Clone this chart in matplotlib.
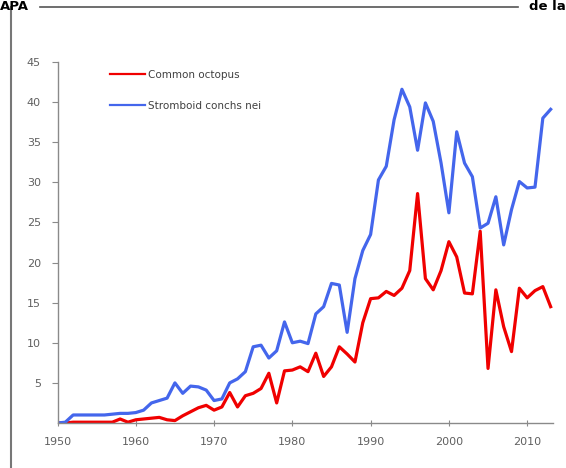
import matplotlib
matplotlib.use("Agg")
import matplotlib.pyplot as plt
from matplotlib.lines import Line2D

# years and catches
anos = list(range(1950, 2014))

octopus = [0, 0, 0.1, 0.1, 0.1, 0.1, 0.1, 0.1, 0.5, 0.1,
           0.4, 0.5, 0.6, 0.7, 0.4, 0.3, 0.9, 1.4, 1.9, 2.2,
           1.6, 2.0, 3.8, 2.0, 3.4, 3.7, 4.3, 6.2, 2.5, 6.5,
           6.6, 7.0, 6.4, 8.7, 5.8, 7.0, 9.5, 8.6, 7.6, 12.5,
           15.5, 15.6, 16.4, 15.9, 16.8, 19.0, 28.6, 18.0, 16.6, 19.0,
           22.6, 20.7, 16.2, 16.1, 23.9, 6.8, 16.6, 12.0, 8.9, 16.8,
           15.6, 16.5, 17.0, 14.5]

conchs = [0, 0.1, 1.0, 1.0, 1.0, 1.0, 1.0, 1.1, 1.2, 1.2,
          1.3, 1.6, 2.5, 2.8, 3.1, 5.0, 3.7, 4.6, 4.5, 4.1,
          2.8, 3.0, 5.0, 5.5, 6.4, 9.5, 9.7, 8.1, 9.0, 12.6,
          10.0, 10.2, 9.9, 13.6, 14.5, 17.4, 17.2, 11.3, 18.0, 21.5,
          23.5, 30.3, 32.0, 37.8, 41.6, 39.4, 34.0, 39.9, 37.6, 32.4,
          26.2, 36.3, 32.4, 30.7, 24.3, 24.9, 28.2, 22.2, 26.6, 30.1,
          29.3, 29.4, 38.0, 39.1]

series = ["Common octopus", "Stromboid conchs nei"]
cores = ["#F00000", "#4466EC"]

W, H = 566, 468
fig = plt.figure(figsize=(W / 100, H / 100), dpi=100)

# frame of the document page around the chart
fig.add_artist(Line2D([40 / W, 518 / W], [1 - 7 / H, 1 - 7 / H], color="#555555", lw=1.2))
fig.add_artist(Line2D([11 / W, 11 / W], [0, 1 - 7 / H], color="#777777", lw=1.5))
fig.text(0, 1 - 10 / H, "APA", fontsize=9.5, fontweight="bold", ha="left", va="baseline")
fig.text(1, 1 - 10 / H, "de la", fontsize=9.5, fontweight="bold", ha="right", va="baseline")

ax = fig.add_axes([57.5 / W, 1 - 423 / H, (553 - 57.5) / W, (423 - 62) / H])

ax.plot(anos, octopus, color=cores[0], lw=2.3, solid_joinstyle="round", label=series[0])
ax.plot(anos, conchs, color=cores[1], lw=2.3, solid_joinstyle="round", label=series[1])

ax.set_xlim(1950, 2013.3)
ax.set_ylim(0, 45)
ax.set_xticks(range(1950, 2011, 10))
ax.set_yticks(range(5, 46, 5))

for s in ["top", "right"]:
    ax.spines[s].set_visible(False)
for s in ["left", "bottom"]:
    ax.spines[s].set_color("#8a8a8a")
    ax.spines[s].set_linewidth(1.0)

ax.tick_params(axis="y", direction="out", length=4, width=0.8, color="#8a8a8a",
               labelsize=8, labelcolor="#606060", pad=8)
ax.tick_params(axis="x", direction="inout", length=4, width=0.8, color="#8a8a8a",
               labelsize=8, labelcolor="#606060", pad=8)

leg = ax.legend(loc="upper left", bbox_to_anchor=(110 / W, 1 - 70 / H),
                bbox_transform=fig.transFigure, frameon=False, fontsize=7.5,
                handlelength=3.4, handletextpad=0.2, labelspacing=2.0,
                borderpad=0, borderaxespad=0)
for t in leg.get_texts():
    t.set_color("#404040")
for l in leg.get_lines():
    l.set_linewidth(1.6)

fig.savefig("out.png", dpi=100)
